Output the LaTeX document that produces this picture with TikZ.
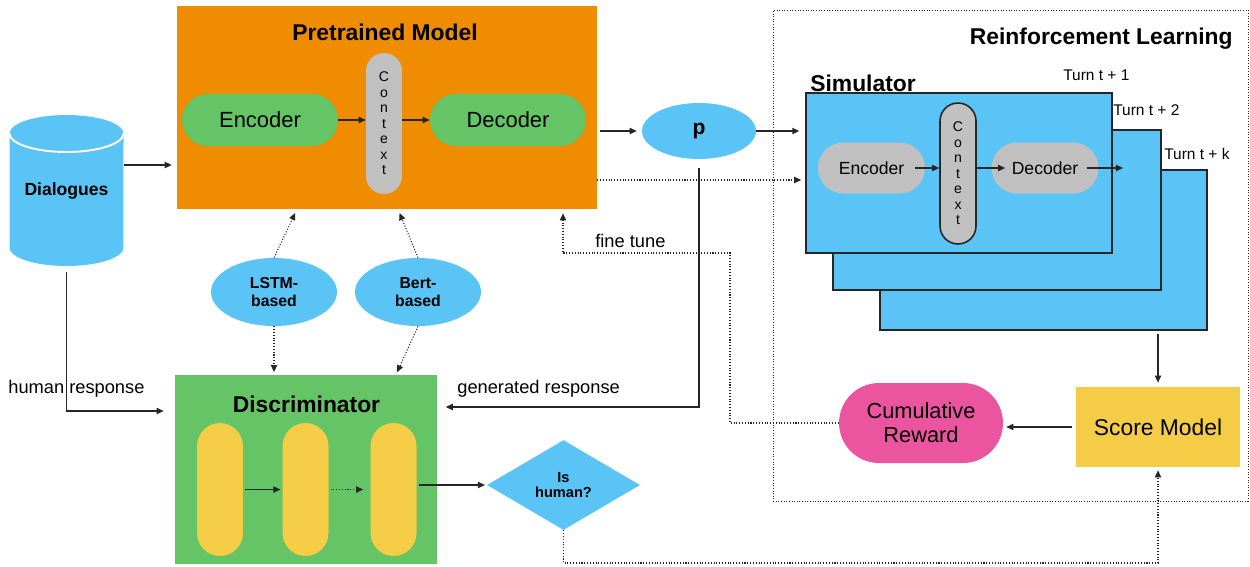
\documentclass[tikz,border=0pt]{standalone}
\usepackage{fontspec}
\setmainfont{Liberation Sans}
\usetikzlibrary{
  arrows.meta,
  positioning,
  shapes.geometric
}
\definecolor{rlorange}{HTML}{EF8C00}
\definecolor{rlgreen} {HTML}{65C466}
\definecolor{rlgray}  {HTML}{C0C0C0}
\definecolor{rlblue}  {HTML}{5AC4F6}
\definecolor{rlyellow}{HTML}{F5CC45}
\definecolor{rlpink}  {HTML}{EB559F}
\definecolor{rldark}  {HTML}{262626}

\begin{document}
\begin{tikzpicture}[
  x=0.02cm, y=-0.02cm,
  every node/.style={inner sep=0pt, font=\fontsize{10.4}{12.5}\selectfont},
  panel/.style={rectangle, draw=none},
  title/.style={font=\fontsize{13}{15}\selectfont\bfseries},
  pill/.style={
    rectangle, rounded corners=0.52cm, minimum width=3.12cm, minimum height=1.04cm,
    fill=rlgreen, font=\fontsize{12.5}{15}\selectfont
  },
  simpill/.style={
    rectangle, rounded corners=0.51cm, minimum width=2.14cm, minimum height=1.02cm,
    fill=rlgray, font=\fontsize{10}{12}\selectfont
  },
  ctx/.style={
    rectangle, rounded corners=0.36cm, minimum width=0.72cm, minimum height=2.82cm,
    fill=rlgray, align=center, font=\fontsize{8}{8.8}\selectfont
  },
  layer/.style={
    rectangle, rounded corners=0.46cm, minimum width=0.92cm, minimum height=2.66cm,
    fill=rlyellow
  },
  simbox/.style={rectangle, draw=rldark, line width=0.9pt, fill=rlblue, minimum height=3.2cm},
  bubble/.style={
    ellipse, fill=rlblue, minimum width=2.52cm, minimum height=1.36cm,
    align=center, font=\fontsize{9}{10}\selectfont\bfseries
  },
  rlbox/.style={rectangle, draw=rldark, line width=0.5pt, densely dotted,
    minimum width=9.5cm, minimum height=9.82cm},
  arr/.style={-{Triangle[length=4pt,width=3.6pt]}, line width=0.6pt, draw=rldark},
  dotarr/.style={arr, densely dotted},
  note/.style={anchor=west, font=\fontsize{10.4}{12.5}\selectfont},
  turn/.style={anchor=west, font=\fontsize{8.8}{10}\selectfont},
]
\useasboundingbox (0,0) rectangle (1250,566);

% Pretrained model
\node[panel, fill=rlorange, minimum width=8.4cm, minimum height=4.06cm] (pre) at (387,107.5) {};
\node[title] (pretitle) at (385,32) {Pretrained Model};
\node[pill] (enc) at (260,120) {Encoder};
\node[ctx]  (ctx) at (384,123.5) {C\\o\\n\\t\\e\\x\\t};
\node[pill] (dec) at (508,120) {Decoder};

% Dialogues
\fill[rlblue] (9.5,133.5) -- (9.5,247.5)
  arc[start angle=180, end angle=360, x radius=1.14cm, y radius=0.37cm]
  -- (123.5,133.5)
  arc[start angle=0, end angle=180, x radius=1.14cm, y radius=0.37cm] -- cycle;
\draw[white, line width=1.1pt] (9.5,133.5)
  arc[start angle=180, end angle=360, x radius=1.14cm, y radius=0.37cm];
\node[minimum width=2.28cm, minimum height=3.02cm, font=\fontsize{10}{12}\selectfont\bfseries]
  (dial) at (66.5,191) {Dialogues};

% p
\node[ellipse, fill=rlblue, minimum width=2.28cm, minimum height=1.12cm,
  font=\fontsize{12}{14}\selectfont\bfseries] (p) at (699,131) {p};

% Reinforcement learning
\node[rlbox] (rl) at (1010.5,255.5) {};
\node[title, anchor=east] (rltitle) at (1233,39) {Reinforcement Learning};
\node[simbox, minimum width=6.54cm] (sim3) at (1043.5,250) {};
\node[simbox, minimum width=6.56cm] (sim2) at (997,210) {};
\node[simbox, minimum width=6.12cm] (sim1) at (959,173) {};
\node[title, anchor=west] (simtitle) at (810,83) {Simulator};
\node[turn] (t1) at (1063,75)  {Turn t + 1};
\node[turn] (t2) at (1113,110) {Turn t + 2};
\node[turn] (tk) at (1164,154) {Turn t + k};
\node[simpill] (senc) at (871.5,168) {Encoder};
\node[ctx, draw=rldark, line width=0.9pt] (sctx) at (958,173.5) {C\\o\\n\\t\\e\\x\\t};
\node[simpill] (sdec) at (1045,168) {Decoder};
\coordinate (sout) at (1123,168);

\node[panel, fill=rlyellow, minimum width=3.28cm, minimum height=1.6cm,
  font=\fontsize{13}{15}\selectfont] (score) at (1158,427) {Score Model};
\node[rectangle, rounded corners=0.8cm, fill=rlpink, minimum width=3.28cm, minimum height=1.6cm,
  align=center, font=\fontsize{12.4}{13.6}\selectfont] (reward) at (921,423) {Cumulative\\Reward};

% Discriminator
\node[panel, fill=rlgreen, minimum width=5.26cm, minimum height=3.78cm] (disc) at (306,469.5) {};
\node[title] (disctitle) at (306.5,404) {Discriminator};
\node[layer] (l1) at (220,489.5) {};
\node[layer] (l2) at (305.5,489.5) {};
\node[layer] (l3) at (393.5,489.5) {};
\node[diamond, fill=rlblue, minimum width=3.06cm, minimum height=1.8cm, align=center,
  font=\fontsize{8.3}{9}\selectfont\bfseries] (human) at (563.5,485) {Is\\human?};

% Discriminator variants
\node[bubble] (lstm) at (274,292) {LSTM-\\based};
\node[bubble] (bert) at (418,292) {Bert-\\based};

% Arrows
\draw[arr] (enc.east) -- (enc.east -| ctx.west);
\draw[arr] (ctx.east |- dec.west) -- (dec.west);
\draw[arr, shorten >=2.8pt] (dial.east |- 0,165) -- (pre.west |- 0,165);
\draw[arr, shorten <=1.7pt, shorten >=2.8pt] (pre.east |- p) -- (p.west);
\draw[arr, shorten >=3.4pt] (p.east) -- (sim1.west |- p.east);
\draw[dotarr, shorten >=2.3pt] (pre.east |- 0,180) -- (sim1.west |- 0,180);
\draw[arr, shorten <=5pt, shorten >=4.5pt] (p.south) |- (disc.east |- 0,407);
\draw[arr, shorten <=3pt, shorten >=6pt] (dial.south) |- (disc.west |- 0,411);

\draw[dotarr, shorten >=2.3pt] (lstm.north) -- (297,0 |- pre.south);
\draw[dotarr, shorten >=2.3pt] (bert.north) -- (398,0 |- pre.south);
\draw[dotarr, shorten >=1.5pt] (lstm.south) -- (lstm.south |- disc.north);
\draw[dotarr, shorten >=1.5pt] (bert.south) -- (396,0 |- disc.north);

\draw[arr, shorten <=1pt, shorten >=1pt] (l1.east) -- (l2.west);
\draw[dotarr, shorten <=1pt, shorten >=4pt] (l2.east) -- (l3.west);
\draw[arr, shorten <=1pt, shorten >=1pt] (l3.east |- human.west) -- (human.west);
\draw[dotarr, shorten >=1.7pt] (human.south) -- (human.south |- 0,563) -| (score.south);

\draw[arr, shorten <=-6pt] (senc.east) -- (sctx.west |- senc.east);
\draw[arr, shorten >=-8pt] (sctx.east |- sdec.west) -- (sdec.west);
\draw[arr, shorten <=-7pt] (sdec.east) -- (sout);
\draw[arr, shorten <=1.7pt, shorten >=2.3pt] (score.north |- sim3.south) -- (score.north);
\draw[arr, shorten <=2.3pt, shorten >=1.7pt] (score.west) -- (reward.east |- score.west);

% Fine tune loop
\coordinate (ft) at (730,253);
\draw[dotarr, shorten >=2.3pt] (reward.west) -| (ft) -| (563,0 |- pre.south);

% Labels
\node[note] (hr) at (8,389)   {human response};
\node[note] (gr) at (457,389) {generated response};
\node[note] (fl) at (595,241) {fine tune};
\end{tikzpicture}
\end{document}
